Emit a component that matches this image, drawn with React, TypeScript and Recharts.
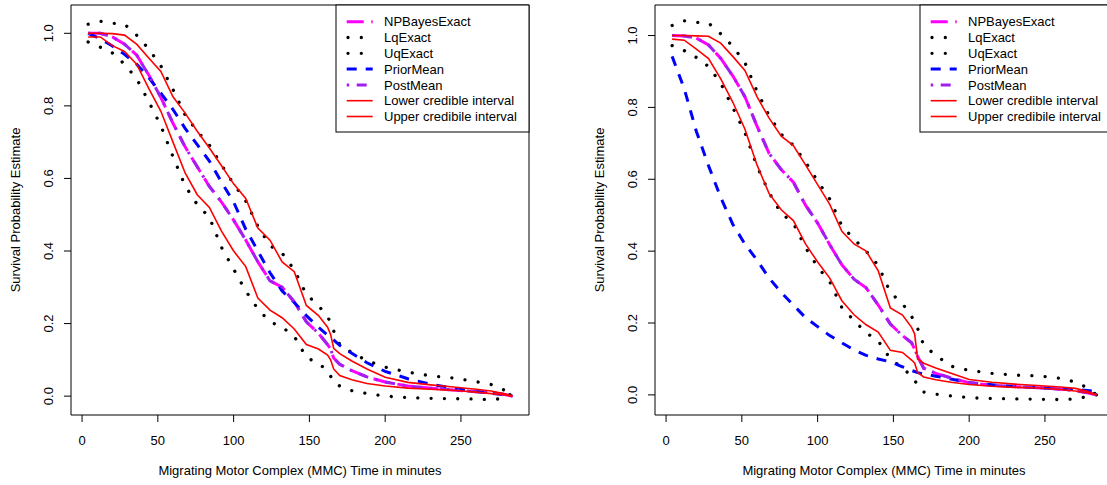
import React from "react";
import { LineChart, Line, XAxis, YAxis, ReferenceArea, Legend } from "recharts";

// shared time grid (minutes)
const minutes = [4, 12, 20, 28, 36, 44, 52, 60, 68, 76, 84, 92, 100, 108, 116, 124, 132, 140, 148, 156, 162, 164, 166, 170, 178, 188, 200, 215, 230, 245, 260, 270, 278, 284];

// left panel
const npBayesA = [1.0, 1.0, 0.99, 0.97, 0.94, 0.885, 0.823, 0.752, 0.687, 0.632, 0.578, 0.535, 0.485, 0.43, 0.37, 0.318, 0.3, 0.26, 0.205, 0.173, 0.142, 0.13, 0.105, 0.088, 0.07, 0.053, 0.039, 0.028, 0.022, 0.017, 0.012, 0.009, 0.005, 0.0];
const lqA = [0.976, 0.962, 0.946, 0.915, 0.875, 0.812, 0.745, 0.66, 0.58, 0.528, 0.493, 0.41, 0.35, 0.29, 0.24, 0.205, 0.19, 0.165, 0.107, 0.09, 0.07, 0.055, 0.037, 0.028, 0.015, 0.007, 0.0, -0.004, -0.006, -0.007, -0.008, -0.01, -0.006, 0.008];
const uqA = [1.025, 1.033, 1.028, 1.025, 0.995, 0.957, 0.91, 0.845, 0.775, 0.73, 0.692, 0.637, 0.585, 0.538, 0.468, 0.415, 0.394, 0.348, 0.28, 0.25, 0.217, 0.205, 0.18, 0.142, 0.12, 0.098, 0.08, 0.066, 0.056, 0.05, 0.04, 0.032, 0.018, 0.005];
const priorA = [1.0, 0.985, 0.965, 0.942, 0.915, 0.878, 0.835, 0.79, 0.738, 0.693, 0.648, 0.59, 0.535, 0.46, 0.4, 0.34, 0.29, 0.258, 0.222, 0.19, 0.168, 0.162, 0.155, 0.14, 0.118, 0.092, 0.068, 0.048, 0.033, 0.022, 0.013, 0.008, 0.004, 0.0];
const postMeanA = [1.0, 1.0, 0.99, 0.97, 0.94, 0.885, 0.823, 0.752, 0.687, 0.632, 0.578, 0.535, 0.485, 0.43, 0.37, 0.318, 0.3, 0.26, 0.205, 0.173, 0.142, 0.13, 0.105, 0.088, 0.07, 0.053, 0.039, 0.028, 0.022, 0.017, 0.012, 0.009, 0.005, 0.0];
const lowerA = [0.99, 0.99, 0.966, 0.95, 0.915, 0.848, 0.785, 0.7, 0.615, 0.555, 0.52, 0.455, 0.4, 0.357, 0.27, 0.237, 0.216, 0.185, 0.142, 0.13, 0.113, 0.1, 0.075, 0.057, 0.045, 0.035, 0.028, 0.022, 0.019, 0.016, 0.011, 0.007, 0.004, 0.0];
const upperA = [1.0, 1.0, 0.999, 0.995, 0.97, 0.932, 0.895, 0.825, 0.78, 0.73, 0.684, 0.635, 0.585, 0.545, 0.463, 0.43, 0.37, 0.343, 0.25, 0.222, 0.19, 0.17, 0.132, 0.117, 0.097, 0.075, 0.052, 0.038, 0.031, 0.025, 0.019, 0.014, 0.007, 0.0];

// right panel
const npBayesB = [1.0, 0.999, 0.993, 0.974, 0.937, 0.888, 0.83, 0.748, 0.672, 0.627, 0.592, 0.528, 0.478, 0.418, 0.362, 0.322, 0.298, 0.25, 0.197, 0.165, 0.145, 0.128, 0.107, 0.074, 0.06, 0.047, 0.034, 0.027, 0.023, 0.02, 0.016, 0.012, 0.006, 0.0];
const lqB = [0.972, 0.958, 0.939, 0.914, 0.868, 0.8, 0.73, 0.636, 0.563, 0.505, 0.478, 0.41, 0.356, 0.315, 0.243, 0.207, 0.173, 0.15, 0.1, 0.075, 0.052, 0.042, 0.025, 0.008, 0.002, -0.003, -0.008, -0.01, -0.011, -0.012, -0.013, -0.011, -0.005, 0.0];
const uqB = [1.028, 1.041, 1.037, 1.035, 1.005, 0.97, 0.925, 0.845, 0.777, 0.725, 0.695, 0.648, 0.595, 0.545, 0.47, 0.434, 0.4, 0.36, 0.285, 0.254, 0.218, 0.205, 0.185, 0.138, 0.11, 0.08, 0.068, 0.06, 0.055, 0.053, 0.046, 0.036, 0.02, 0.0];
const priorB = [0.942, 0.852, 0.733, 0.638, 0.55, 0.475, 0.42, 0.375, 0.325, 0.285, 0.25, 0.215, 0.19, 0.165, 0.145, 0.125, 0.11, 0.1, 0.092, 0.078, 0.068, 0.065, 0.062, 0.058, 0.052, 0.044, 0.034, 0.028, 0.023, 0.02, 0.017, 0.015, 0.012, 0.01];
const postMeanB = [1.0, 0.999, 0.993, 0.974, 0.937, 0.888, 0.83, 0.748, 0.672, 0.627, 0.592, 0.528, 0.478, 0.418, 0.362, 0.322, 0.298, 0.25, 0.197, 0.165, 0.145, 0.128, 0.107, 0.074, 0.06, 0.047, 0.034, 0.027, 0.023, 0.02, 0.016, 0.012, 0.006, 0.0];
const lowerB = [0.99, 0.987, 0.962, 0.936, 0.88, 0.815, 0.74, 0.64, 0.56, 0.515, 0.485, 0.42, 0.37, 0.325, 0.262, 0.223, 0.195, 0.175, 0.124, 0.118, 0.097, 0.089, 0.062, 0.05, 0.042, 0.035, 0.029, 0.024, 0.021, 0.019, 0.015, 0.011, 0.006, 0.0];
const upperB = [1.0, 1.0, 0.999, 0.998, 0.979, 0.942, 0.903, 0.83, 0.77, 0.72, 0.694, 0.64, 0.585, 0.53, 0.455, 0.42, 0.4, 0.345, 0.242, 0.222, 0.188, 0.17, 0.1, 0.088, 0.075, 0.06, 0.043, 0.035, 0.03, 0.026, 0.022, 0.018, 0.01, 0.0];

const xTicks = [0, 50, 100, 150, 200, 250];
const yTicks = [0, 0.2, 0.4, 0.6, 0.8, 1.0];

const W = 553;
const H = 485;
const FONT = '"Liberation Sans", Arial, Helvetica, sans-serif';
const X_DOMAIN: [number, number] = [-7.3, 294.9];

const SERIES = [
  { key: "np", name: "NPBayesExact", color: "#FF00FF", width: 3, dash: "17 7.5", cap: "butt" },
  { key: "lq", name: "LqExact", color: "#000000", width: 3.3, dash: "0.01 13.3", cap: "round" },
  { key: "uq", name: "UqExact", color: "#000000", width: 3.3, dash: "0.01 13.3", cap: "round" },
  { key: "prior", name: "PriorMean", color: "#0000FF", width: 3, dash: "10 9", cap: "butt" },
  { key: "post", name: "PostMean", color: "#A020F0", width: 3, dash: "2.5 7.5 10 7.5", cap: "butt" },
  { key: "lower", name: "Lower credible interval", color: "#FF0000", width: 1.6, dash: undefined, cap: "butt" },
  { key: "upper", name: "Upper credibile interval", color: "#FF0000", width: 1.6, dash: undefined, cap: "butt" },
];

function rows(np: number[], lq: number[], uq: number[], prior: number[], post: number[], lower: number[], upper: number[]) {
  return minutes.map((m, i) => ({
    m,
    np: np[i],
    lq: lq[i],
    uq: uq[i],
    prior: prior[i],
    post: post[i],
    lower: lower[i],
    upper: upper[i],
  }));
}

const XTick = (props: any) => (
  <text x={props.x} y={445} textAnchor="middle" fontSize={13} fontFamily={FONT} fill="#000">
    {props.payload.value}
  </text>
);

const YTick = (props: any) => (
  <text
    transform={`translate(53, ${props.y}) rotate(-90)`}
    textAnchor="middle"
    fontSize={13}
    fontFamily={FONT}
    fill="#000"
  >
    {Number(props.payload.value).toFixed(1)}
  </text>
);

function LegendBox() {
  const x0 = 336;
  const y0 = 5;
  return (
    <svg width={W} height={H} style={{ position: "absolute", left: 0, top: 0 }}>
      <rect x={x0} y={y0} width={193} height={127} fill="#fff" stroke="#000" strokeWidth={1} />
      {SERIES.map((s, i) => {
        const cy = 21.7 + i * 15.8;
        return (
          <g key={s.key}>
            <line
              x1={s.cap === "round" ? 348 : 346.7}
              x2={372.7}
              y1={cy}
              y2={cy}
              stroke={s.color}
              strokeWidth={s.width}
              strokeDasharray={s.dash}
              strokeLinecap={s.cap as any}
            />
            <text x={384} y={cy + 4.7} fontSize={13} fontFamily={FONT} fill="#000">
              {s.name}
            </text>
          </g>
        );
      })}
    </svg>
  );
}

function Panel({ data, yDomain }: { data: any[]; yDomain: [number, number] }) {
  return (
    <LineChart width={W} height={H} data={data} margin={{ top: 5, right: 24, bottom: 10, left: 11 }}>
      <XAxis
        dataKey="m"
        type="number"
        domain={X_DOMAIN}
        allowDataOverflow
        ticks={xTicks}
        interval={0}
        height={60}
        tickSize={7}
        axisLine={false}
        tickLine={{ stroke: "#000" }}
        tick={XTick}
        label={{
          content: () => (
            <text x={300} y={475} textAnchor="middle" fontSize={13} fontFamily={FONT} fill="#000">
              Migrating Motor Complex (MMC) Time in minutes
            </text>
          ),
        }}
      />
      <YAxis
        type="number"
        domain={yDomain}
        allowDataOverflow
        ticks={yTicks}
        interval={0}
        width={60}
        tickSize={7}
        axisLine={false}
        tickLine={{ stroke: "#000" }}
        tick={YTick}
        label={{
          content: () => (
            <text
              transform="translate(19.5, 210) rotate(-90)"
              textAnchor="middle"
              fontSize={13}
              fontFamily={FONT}
              fill="#000"
            >
              Survival Probability Estimate
            </text>
          ),
        }}
      />
      <ReferenceArea
        x1={X_DOMAIN[0]}
        x2={X_DOMAIN[1]}
        y1={yDomain[0]}
        y2={yDomain[1]}
        fill="none"
        stroke="#000"
        strokeWidth={1}
        ifOverflow="visible"
      />
      {SERIES.map((s) => (
        <Line
          key={s.key}
          dataKey={s.key}
          name={s.name}
          type="linear"
          stroke={s.color}
          strokeWidth={s.width}
          strokeDasharray={s.dash}
          strokeLinecap={s.cap as any}
          dot={false}
          activeDot={false}
          isAnimationActive={false}
        />
      ))}
      <Legend
        layout="vertical"
        align="center"
        verticalAlign="middle"
        content={() => <LegendBox />}
        wrapperStyle={{ position: "absolute", left: 0, top: 0, width: W, height: H, pointerEvents: "none" }}
      />
    </LineChart>
  );
}

export default function App() {
  const dataA = rows(npBayesA, lqA, uqA, priorA, postMeanA, lowerA, upperA);
  const dataB = rows(npBayesB, lqB, uqB, priorB, postMeanB, lowerB, upperB);
  return (
    <div
      style={{
        position: "absolute",
        left: 0,
        top: 0,
        width: 1107,
        height: 485,
        overflow: "hidden",
        background: "#fff",
      }}
    >
      <div style={{ position: "absolute", left: 0, top: 0 }}>
        <Panel data={dataA} yDomain={[-0.052, 1.078]} />
      </div>
      <div style={{ position: "absolute", left: 584, top: 0 }}>
        <Panel data={dataB} yDomain={[-0.056, 1.085]} />
      </div>
    </div>
  );
}
